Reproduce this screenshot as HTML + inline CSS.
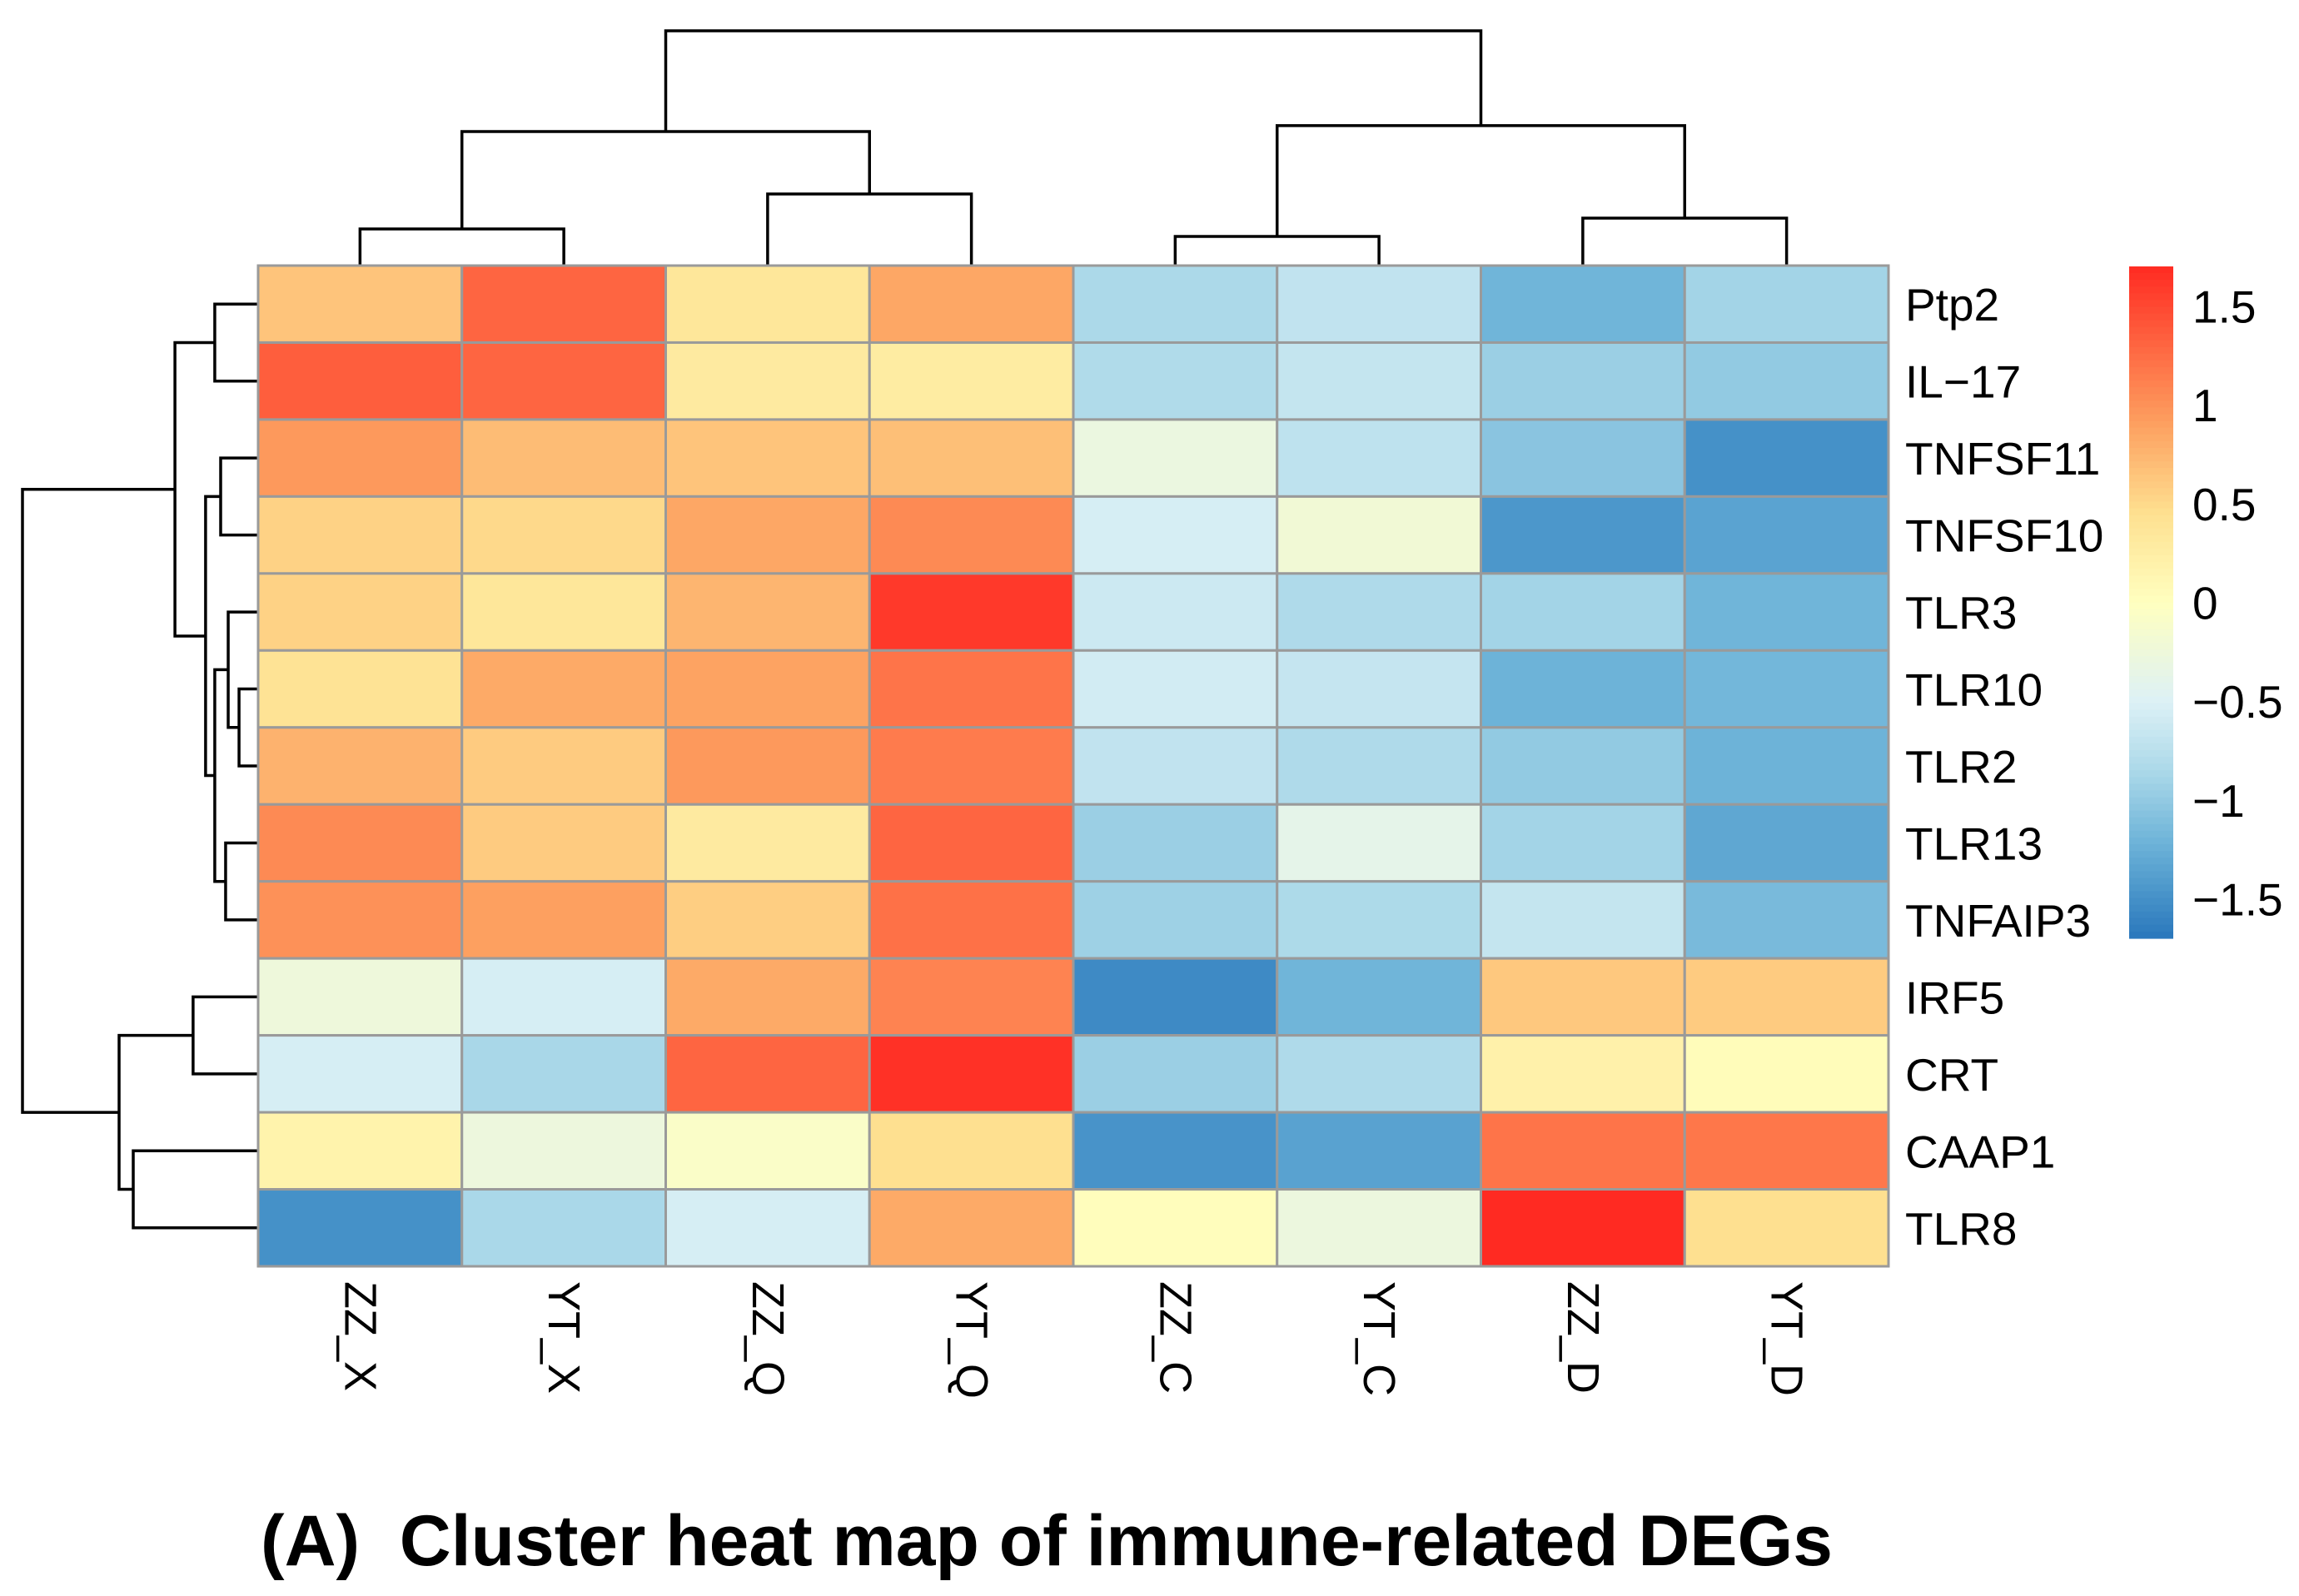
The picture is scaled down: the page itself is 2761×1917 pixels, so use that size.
<!DOCTYPE html>
<html><head><meta charset="utf-8"><style>
html,body{margin:0;padding:0;background:#fff}
svg{display:block}
text{font-family:"Liberation Sans",Arial,sans-serif;fill:#000}
</style></head><body>
<svg id="chart" width="2761" height="1917" viewBox="0 0 2761 1917" xmlns="http://www.w3.org/2000/svg">
<g id="dendro-top"></g>
<g id="dendro-left"></g>
<g id="cells"></g>
<g id="rowlabels"></g>
<g id="collabels"></g>
<g id="legend"></g>
<text x="313" y="1880" font-size="86" font-weight="bold" textLength="1888" lengthAdjust="spacingAndGlyphs">(A)&#160; Cluster heat map of immune-related DEGs</text>
</svg>
<script>
const genes = ["Ptp2","IL\u221217","TNFSF11","TNFSF10","TLR3","TLR10","TLR2","TLR13","TNFAIP3","IRF5","CRT","CAAP1","TLR8"];
const samples = ["ZZ_X","YT_X","ZZ_Q","YT_Q","ZZ_C","YT_C","ZZ_D","YT_D"];
const values = [
 [0.65,1.3,0.35,0.85,-0.85,-0.7,-1.2,-0.9],
 [1.35,1.3,0.3,0.28,-0.82,-0.68,-0.95,-1.0],
 [0.95,0.7,0.65,0.68,-0.3,-0.72,-1.05,-1.5],
 [0.55,0.5,0.85,1.05,-0.55,-0.2,-1.45,-1.35],
 [0.55,0.35,0.75,1.6,-0.62,-0.83,-0.9,-1.2],
 [0.4,0.83,0.88,1.2,-0.58,-0.67,-1.22,-1.18],
 [0.77,0.6,0.95,1.15,-0.7,-0.83,-1.0,-1.22],
 [1.05,0.6,0.3,1.3,-0.95,-0.38,-0.9,-1.32],
 [1.0,0.9,0.58,1.22,-0.93,-0.84,-0.68,-1.15],
 [-0.25,-0.55,0.83,1.1,-1.55,-1.2,0.62,0.6],
 [-0.55,-0.87,1.3,1.65,-0.95,-0.83,0.2,0.05],
 [0.18,-0.27,-0.08,0.45,-1.48,-1.36,1.2,1.18],
 [-1.5,-0.86,-0.55,0.83,0.03,-0.28,1.7,0.45]
];
const legendTicks = [1.5,1,0.5,0,-0.5,-1,-1.5];
const legendTickLabels = ["1.5","1","0.5","0","\u22120.5","\u22121","\u22121.5"];
const colTree = [[[0,1,15.6],[2,3,30.5],57.1],[[4,5,12.4],[6,7,20.2],59.6],100];
const rowTree = [[[0,1,18.4],[[2,3,15.9],[[4,[5,6,8.1],12.7],[7,8,13.8],18.4],22.3],35.3],[[9,10,27.6],[11,12,53],59],100];

const NS="http://www.w3.org/2000/svg";
const X0=310,X1=2268,Y0=319,Y1=1521;
const cw=(X1-X0)/samples.length, rh=(Y1-Y0)/genes.length;
const xCol=i=>X0+cw*(i+0.5), yRow=i=>Y0+rh*(i+0.5);
const colH=h=>Y0-h*(Y0-37)/100;
const rowH=h=>X0-h*(X0-27)/100;
const vmin=-1.7,vmax=1.7;
const stops=[[-1.7,[42,119,188]],[-1.45,[76,151,203]],[-1.2,[112,181,217]],[-0.85,[172,217,233]],[-0.5,[221,241,246]],[0,[255,255,191]],[0.45,[254,224,144]],[0.9,[253,160,96]],[1.7,[255,42,34]]];
function color(v){
  v=Math.max(vmin,Math.min(vmax,v));
  for(let i=0;i<stops.length-1;i++){const a=stops[i],b=stops[i+1];
    if(v<=b[0]){const t=(v-a[0])/(b[0]-a[0]);const c=a[1].map((x,k)=>Math.round(x+(b[1][k]-x)*t));return `rgb(${c})`;}}
  return `rgb(${stops[stops.length-1][1]})`;
}
function mk(tag,attrs,parent){const e=document.createElementNS(NS,tag);for(const k in attrs)e.setAttribute(k,attrs[k]);parent.appendChild(e);return e;}

const cells=document.getElementById('cells');
values.forEach((row,r)=>row.forEach((v,c)=>{
  const e=mk('rect',{x:X0+c*cw,y:Y0+r*rh,width:cw,height:rh,fill:color(v),stroke:'#9a9a9a','stroke-width':3},cells);
  
  
}));

const rl=document.getElementById('rowlabels');
genes.forEach((g,i)=>{const t=mk('text',{x:2288,y:yRow(i)+20,'font-size':55},rl);t.textContent=g;
  
  });
const cl=document.getElementById('collabels');
samples.forEach((s,i)=>{const t=mk('text',{x:0,y:0,'font-size':54,'dominant-baseline':'central',transform:`translate(${xCol(i)},1539) rotate(90)`},cl);t.textContent=s;
  
  });

function drawTree(node,g,leafPos,hPos,vertical){
  if(typeof node==='number') return {p:leafPos(node),h:null};
  const L=drawTree(node[0],g,leafPos,hPos,vertical), R=drawTree(node[1],g,leafPos,hPos,vertical);
  const hp=hPos(node[2]);
  const le=L.h===null?(vertical?Y0:X0):L.h, re=R.h===null?(vertical?Y0:X0):R.h;
  let d;
  if(vertical) d=`M${L.p},${le}V${hp}H${R.p}V${re}`;
  else d=`M${le},${L.p}H${hp}V${R.p}H${re}`;
  const p=mk('path',{d:d,fill:'none',stroke:'#000','stroke-width':3.5},g);
  
  
  return {p:(L.p+R.p)/2,h:hp};
}
drawTree(colTree,document.getElementById('dendro-top'),xCol,colH,true);
drawTree(rowTree,document.getElementById('dendro-left'),yRow,rowH,false);

const lg=document.getElementById('legend');
const LX=2557,LW=53,LY0=320,LY1=1127;
const ly=v=>LY0+(vmax-v)/(vmax-vmin)*(LY1-LY0);
const N=100;
for(let i=0;i<N;i++){const v=vmax-(i+0.5)*(vmax-vmin)/N;
  const r=mk('rect',{x:LX,y:LY0+i*(LY1-LY0)/N,width:LW,height:(LY1-LY0)/N+0.6,fill:color(v)},lg);
  
  }
legendTicks.forEach((v,i)=>{const t=mk('text',{x:2633,y:ly(v)+20,'font-size':55},lg);t.textContent=legendTickLabels[i];
  
  });
</script>
</body></html>
